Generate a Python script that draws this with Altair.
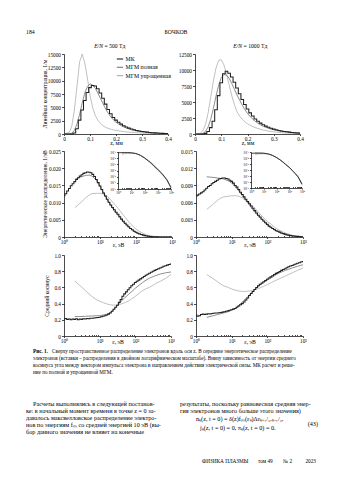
import altair as alt
import pandas as pd

W, H = 350, 487
FONT = "Liberation Serif"

SERIES = ["МК", "МГМ полная", "МГМ упрощенная"]
SERIES_COLORS = ["#202020", "#7a7a7a", "#ababab"]
SERIES_WIDTHS = [1.05, 0.85, 0.75]

# ---------------- top row: linear concentration vs z ----------------
Z_MK = [0.00, 0.01, 0.02, 0.03, 0.04, 0.05, 0.06, 0.07, 0.08, 0.09, 0.10, 0.11, 0.12, 0.13,
        0.14, 0.15, 0.16, 0.17, 0.18, 0.19, 0.20, 0.21, 0.22, 0.23, 0.24, 0.25, 0.26, 0.27,
        0.28, 0.29, 0.30, 0.31, 0.32, 0.33, 0.34, 0.35, 0.36, 0.37, 0.38, 0.39, 0.40]
Z_M = [0.00, 0.02, 0.03, 0.04, 0.05, 0.06, 0.07, 0.08, 0.09, 0.10, 0.11, 0.12, 0.13, 0.14,
       0.15, 0.16, 0.17, 0.18, 0.19, 0.20, 0.22, 0.24, 0.26, 0.28, 0.30, 0.32, 0.34, 0.36,
       0.38, 0.40]
MK_500 = [0, 0, 0, 0, 200, 1000, 2600, 4500, 6300, 7800, 8700, 9100, 9000, 8500, 7700, 6700,
          5600, 4600, 3800, 3100, 2600, 2200, 1850, 1550, 1300, 1100, 930, 790, 670, 570, 480,
          410, 350, 300, 250, 210, 180, 150, 120, 100, 80]
FULL_500 = [0, 0, 150, 700, 1900, 3700, 5800, 7700, 8900, 9400, 9200, 8600, 7700, 6700, 5700,
            4700, 3900, 3200, 2650, 2200, 1550, 1100, 780, 560, 400, 290, 210, 150, 110, 80]
SIMP_500 = [0, 300, 1500, 4500, 9000, 13500, 15000, 13300, 10500, 7300, 5000, 3500, 2600, 2000,
            1550, 1250, 1050, 900, 780, 680, 520, 400, 310, 240, 180, 140, 110, 80, 60, 45]
MK_1000 = [0, 0, 0, 0, 100, 400, 1000, 2000, 3800, 6000, 8000, 9400, 9800, 9500, 8900, 8100,
           7200, 6300, 5400, 4600, 3900, 3300, 2800, 2350, 2000, 1700, 1450, 1230, 1050, 890,
           760, 650, 550, 470, 400, 340, 290, 240, 200, 170, 140]
FULL_1000 = [0, 0, 100, 400, 1100, 2300, 4000, 5900, 7600, 8800, 9300, 9200, 8700, 7900, 7000,
             6100, 5300, 4500, 3800, 3200, 2300, 1650, 1200, 880, 650, 480, 360, 270, 200, 150]
SIMP_1000 = [0, 100, 500, 1500, 3300, 5800, 8300, 10300, 11500, 11600, 10800, 9400, 7700, 6000,
             4600, 3500, 2800, 2300, 1900, 1600, 1150, 850, 620, 450, 330, 240, 170, 120, 90, 60]

# ---------------- middle row: energy distribution ----------------
E_MK = [1, 1.122, 1.259, 1.413, 1.585, 1.778, 1.995, 2.239, 2.512, 2.818, 3.162, 3.548, 3.981,
        4.467, 5.012, 5.623, 6.31, 7.079, 7.943, 8.913,
        10, 11.22, 12.59, 14.13, 15.85, 17.78, 19.95, 22.39, 25.12, 28.18, 31.62, 35.48, 39.81,
        44.67, 50.12, 56.23, 63.1, 70.79, 79.43, 89.13,
        100, 112.2, 125.9, 141.3, 158.5, 177.8, 199.5, 223.9, 251.2, 281.8, 316.2, 354.8, 398.1,
        446.7, 501.2, 562.3, 631, 707.9, 794.3, 891.3, 1000]
E_M = [2, 3, 4, 5, 6, 8, 10, 13, 16, 20, 25, 32, 40, 50, 63, 80, 100, 130, 160, 200, 250,
       320, 400, 500, 700, 1000]
F_MK_500 = [0.0120, 0.0126, 0.0134, 0.0141, 0.0149, 0.0155, 0.0161, 0.0167, 0.0172, 0.0177,
            0.0181, 0.0185, 0.0187, 0.0189, 0.0188, 0.0187, 0.0182, 0.0176, 0.0167, 0.0158,
            0.0148, 0.0138, 0.0128, 0.0119, 0.0110, 0.0101, 0.0093, 0.0086, 0.0079, 0.0072,
            0.0066, 0.0059, 0.0052, 0.0046, 0.0040, 0.0035, 0.0030, 0.0025, 0.0021, 0.0017,
            0.0014, 0.0011, 0.0009, 0.0007, 0.00055, 0.0004, 0.0003, 0.0002, 0.00015, 0.0001,
            0.00007, 0.00005, 0.00003, 0.00002, 0.00001, 0.000005, 0, 0, 0, 0, 0]
F_FULL_500 = [0.0168, 0.0175, 0.0179, 0.0180, 0.0177, 0.0165, 0.0147, 0.0125, 0.0108, 0.0091,
              0.0076, 0.0062, 0.0049, 0.0038, 0.0028, 0.0020, 0.0014, 0.0009, 0.0006, 0.00035,
              0.0002, 0.0001, 0.00005, 0.00002, 0.000005, 0]
F_SIMP_500 = [0.0085, 0.0101, 0.0114, 0.0122, 0.0126, 0.0127, 0.0127, 0.0124, 0.0118, 0.0108,
              0.0096, 0.0083, 0.0070, 0.0057, 0.0044, 0.0032, 0.0023, 0.0015, 0.0010, 0.0006,
              0.00035, 0.0002, 0.0001, 0.00005, 0.00001, 0]
F_MK_1000 = [0.0071, 0.0073, 0.0075, 0.0077, 0.0079, 0.0082, 0.0085, 0.0088, 0.0090, 0.0093,
             0.0095, 0.0097, 0.0099, 0.0101, 0.0102, 0.0103, 0.0103, 0.0102, 0.0101, 0.0099,
             0.0097, 0.0094, 0.0090, 0.0087, 0.0083, 0.0078, 0.0074, 0.0070, 0.0066, 0.0062,
             0.0058, 0.0054, 0.0050, 0.0046, 0.0042, 0.0038, 0.0035, 0.0031, 0.0028, 0.0025,
             0.0022, 0.0019, 0.0017, 0.0015, 0.0013, 0.0011, 0.0010, 0.00085, 0.0007, 0.0006,
             0.0005, 0.0004, 0.00033, 0.00027, 0.00022, 0.00018, 0.00014, 0.00011, 0.00008,
             0.00006, 0.00004]
F_FULL_1000 = [0.0105, 0.0104, 0.0103, 0.0102, 0.0101, 0.0098, 0.0094, 0.0087, 0.0080, 0.0072,
               0.0064, 0.0055, 0.0047, 0.0040, 0.0033, 0.0027, 0.0021, 0.0016, 0.0012, 0.0009,
               0.0006, 0.0004, 0.00025, 0.00015, 0.00007, 0.00003]
F_SIMP_1000 = [0.0048, 0.0057, 0.0064, 0.0068, 0.0070, 0.0071, 0.0072, 0.0072, 0.0071, 0.0068,
               0.0064, 0.0059, 0.0053, 0.0047, 0.0040, 0.0033, 0.0027, 0.0022, 0.0017, 0.0013,
               0.0010, 0.0007, 0.0005, 0.0003, 0.00015, 0.00008]

# insets (log-log)
E_IN = [1, 2, 3, 5, 10, 20, 30, 50, 100, 200, 300, 500, 1000, 2000, 3000, 5000, 10000]
E_IN_M = [2, 3, 5, 10, 20, 30, 50, 100, 200, 300, 500, 1000, 2000, 3000, 5000, 10000]
IN_MK_500 = [0.075, 0.08, 0.08, 0.08, 0.075, 0.06, 0.045, 0.028, 0.011, 0.0035, 0.0018, 0.0006,
             0.00015, 3.5e-5, 1.2e-5, 3e-6, 1.5e-7]
IN_FULL_500 = [0.065, 0.07, 0.075, 0.072, 0.058, 0.044, 0.027, 0.0105, 0.0032, 0.0016, 0.0005,
               0.00012, 2.8e-5, 1e-5, 2.5e-6, 2e-7]
IN_SIMP_500 = [0.04, 0.05, 0.058, 0.06, 0.055, 0.045, 0.03, 0.013, 0.0045, 0.0022, 0.0008,
               0.0002, 4e-5, 1.4e-5, 3e-6, 2e-7]
IN_MK_1000 = [0.06, 0.065, 0.065, 0.065, 0.063, 0.05, 0.04, 0.026, 0.012, 0.0045, 0.0023,
              0.0009, 0.00028, 6e-5, 2.5e-5, 7e-6, 4e-7]
IN_FULL_1000 = [0.068, 0.067, 0.065, 0.062, 0.05, 0.04, 0.026, 0.012, 0.0045, 0.0023, 0.0009,
                0.00027, 6e-5, 2.4e-5, 6e-6, 5e-7]
IN_SIMP_1000 = [0.035, 0.042, 0.047, 0.05, 0.045, 0.038, 0.026, 0.013, 0.005, 0.0026, 0.001,
                0.0003, 7e-5, 2.8e-5, 8e-6, 6e-7]

# ---------------- bottom row: mean cosine ----------------
C_MK_500 = [0.21, 0.215, 0.205, 0.21, 0.20, 0.21, 0.205, 0.212, 0.20, 0.21, 0.205, 0.213, 0.21,
            0.215, 0.213, 0.218, 0.22, 0.223, 0.225, 0.228, 0.232, 0.237, 0.245, 0.25, 0.26,
            0.27, 0.285, 0.305, 0.33, 0.355, 0.38, 0.415, 0.45, 0.49, 0.52, 0.545, 0.57, 0.595,
            0.62, 0.64, 0.66, 0.675, 0.69, 0.705, 0.72, 0.735, 0.75, 0.763, 0.775, 0.788, 0.80,
            0.81, 0.82, 0.83, 0.84, 0.85, 0.86, 0.868, 0.875, 0.883, 0.89]
C_FULL_500 = [0.24, 0.24, 0.243, 0.245, 0.247, 0.25, 0.252, 0.26, 0.27, 0.29, 0.33, 0.38, 0.43,
              0.47, 0.51, 0.55, 0.59, 0.63, 0.66, 0.69, 0.715, 0.735, 0.75, 0.765, 0.78, 0.79]
C_SIMP_500 = [0.68, 0.61, 0.56, 0.52, 0.49, 0.45, 0.43, 0.41, 0.395, 0.385, 0.38, 0.385, 0.395,
              0.41, 0.43, 0.46, 0.49, 0.53, 0.56, 0.585, 0.60, 0.63, 0.655, 0.675, 0.71, 0.76]
C_MK_1000 = [0.26, 0.245, 0.25, 0.265, 0.27, 0.265, 0.27, 0.275, 0.272, 0.278, 0.28, 0.283,
             0.285, 0.288, 0.29, 0.295, 0.30, 0.305, 0.31, 0.318, 0.325, 0.332, 0.34, 0.355,
             0.37, 0.385, 0.40, 0.42, 0.445, 0.47, 0.50, 0.525, 0.55, 0.575, 0.60, 0.62, 0.64,
             0.655, 0.67, 0.685, 0.70, 0.715, 0.73, 0.745, 0.76, 0.773, 0.785, 0.797, 0.81,
             0.82, 0.83, 0.843, 0.855, 0.863, 0.87, 0.88, 0.89, 0.898, 0.905, 0.913, 0.92]
C_FULL_1000 = [0.23, 0.25, 0.265, 0.275, 0.285, 0.30, 0.32, 0.345, 0.38, 0.42, 0.46, 0.51,
               0.555, 0.595, 0.63, 0.66, 0.69, 0.72, 0.745, 0.77, 0.79, 0.81, 0.825, 0.84,
               0.86, 0.88]
C_SIMP_1000 = [0.76, 0.71, 0.67, 0.64, 0.62, 0.60, 0.58, 0.565, 0.555, 0.55, 0.55, 0.555, 0.565,
               0.58, 0.595, 0.615, 0.635, 0.66, 0.68, 0.70, 0.72, 0.74, 0.76, 0.78, 0.81, 0.84]

# tick values / labels
Z_TICKS = [0, 0.1, 0.2, 0.3, 0.4]
N500_TICKS = [0, 2500, 5000, 7500, 10000, 12500, 15000]
N1000_TICKS = [0, 2500, 5000, 7500, 10000, 12500]
F500_TICKS = [0, 0.005, 0.010, 0.015, 0.020, 0.025]
F1000_TICKS = [0, 0.003, 0.006, 0.009, 0.012, 0.015]
COS_TICKS = [0, 0.2, 0.4, 0.6, 0.8, 1.0]
E_TICKS = [1, 10, 100, 1000]
E_IN_TICKS = [1, 10, 100, 1000, 10000]
F_IN_TICKS = [1e-1, 1e-2, 1e-3, 1e-4, 1e-5, 1e-6, 1e-7]

# texts
HEADER_PAGE = "184"
HEADER_AUTHOR = "БОЧКОВ"
TITLE_500 = "= 500 Тд"
TITLE_1000 = "= 1000 Тд"
YT_TOP = "Линейная концентрация, 1/м"
YT_MID = "Энергетическое распределение, 1/эВ"
YT_BOT = "Средний косинус"
XT_Z = "z, мм"
XT_E = "ε, эВ"
CAPTION = [
    "Сверху пространственное распределение электронов вдоль оси z. В середине энергетическое распределение",
    "электронов (вставки – распределения в двойном логарифмическом масштабе). Внизу зависимость от энергии среднего",
    "косинуса угла между вектором импульса электрона и направлением действия электрической силы. МК расчет и реше-",
    "ние по полной и упрощенной МГМ.",
]
BODY_LEFT = [
    "Расчеты выполнялись в следующей постанов-",
    "ке: в начальный момент времени в точке z = 0 за-",
    "давалось максвелловское распределение электро-",
    "нов по энергиям fₘ со средней энергией 10 эВ (вы-",
    "бор данного значения не влияет на конечные",
]
BODY_RIGHT = [
    "результаты, поскольку равновесная средняя энер-",
    "гия электронов много больше этого значения)",
]
FORMULA = [
    "nₖ(z, t = 0) = δ(z)fₘ(εₖ)Δεₖ₊₁/₂,ₖ₋₁/₂,",
    "jₖ(z, t = 0) = 0,    πₖ(z, t = 0) = 0.",
]
FOOTER = ["ФИЗИКА ПЛАЗМЫ", "том 49", "№ 2", "2023"]

SUP = {0: "⁰", 1: "¹", 2: "²", 3: "³", 4: "⁴", 5: "⁵", 6: "⁶", 7: "⁷"}


def pow_expr(exps, neg=False):
    parts = []
    for e in exps:
        lab = "10" + ("⁻" if neg else "") + SUP[abs(e)]
        parts.append(f"abs(log(datum.value)/LN10 - ({e})) < 0.01 ? '{lab}'")
    return " : ".join(parts) + " : ''"


LOG3_EXPR = pow_expr([0, 1, 2, 3])
LOG4_EXPR = pow_expr([0, 1, 2, 3, 4])
NEG_EXPR = pow_expr([-1, -2, -3, -4, -5, -6, -7], neg=True)
LIN1 = "datum.value == 0 ? '0' : format(datum.value, '.1f')"
LIN3 = "datum.value == 0 ? '0' : format(datum.value, '.3f')"
INT = "format(datum.value, 'd')"
MINOR3 = [m * 10 ** d for d in range(3) for m in range(2, 10)]
MINOR4 = [m * 10 ** d for d in range(4) for m in range(2, 10)]

LEGEND = alt.Legend(title=None, orient="none", legendX=116, legendY=55, symbolType="stroke",
                    symbolSize=40, symbolStrokeWidth=1.1, labelFont=FONT, labelFontSize=5.8,
                    rowPadding=1.3, labelOffset=1.5, padding=0, labelLimit=200)


def sc(dom, rng, kind="linear"):
    if kind == "log":
        return alt.Scale(type="log", domain=dom, range=rng, nice=False)
    return alt.Scale(type="linear", domain=dom, range=rng, nice=False, zero=False)


def x_axis(yb, values, expr, title=None, size=5.3, tick=1.5, pad=0.5, tpad=-3.0):
    kw = dict(orient="bottom", offset=yb - H, values=values, labelExpr=expr, tickSize=tick,
              labelFontSize=size, labelPadding=pad)
    if title:
        kw.update(title=title, titleFontSize=5.7, titlePadding=tpad)
    else:
        kw.update(title=None)
    return alt.Axis(**kw)


def y_axis(x0, values, expr, size=5.3, tick=2.5, pad=1.0):
    return alt.Axis(orient="left", offset=-x0, values=values, labelExpr=expr, tickSize=tick,
                    labelFontSize=size, labelPadding=pad, title=None)


def minor_axis(yb, values):
    return alt.Axis(orient="bottom", offset=yb - H - 1.5, values=values, labels=False,
                    domain=False, tickSize=1.0, title=None, tickWidth=0.7)


def series(xs, ys, idx, xsc, ysc, interp="linear", xaxis=None, yaxis=None, wscale=1.0):
    data = pd.DataFrame({"x": xs, "y": ys, "series": SERIES[idx]})
    return alt.Chart(data).mark_line(interpolate=interp,
                                     strokeWidth=SERIES_WIDTHS[idx] * wscale).encode(
        x=alt.X("x:Q", scale=xsc, axis=xaxis),
        y=alt.Y("y:Q", scale=ysc, axis=yaxis),
        color=alt.Color("series:N", scale=alt.Scale(domain=SERIES, range=SERIES_COLORS),
                        legend=LEGEND),
    )


def ghost(xs, ys, xsc, ysc, xaxis):
    data = pd.DataFrame({"x": xs, "y": ys})
    return alt.Chart(data).mark_line(opacity=0).encode(
        x=alt.X("x:Q", scale=xsc, axis=xaxis),
        y=alt.Y("y:Q", scale=ysc, axis=None),
    )


def text(t, x, y, size, align="left", weight="normal", style="normal", angle=0):
    return alt.Chart(pd.DataFrame({"t": [t]})).mark_text(
        align=align, baseline="middle", font=FONT, fontSize=size, fontWeight=weight,
        fontStyle=style, angle=angle, color="black"
    ).encode(x=alt.value(x), y=alt.value(y), text="t:N")


layers = []


def panel(x0, x1, yb, yt, xdom, ydom, xkind, ykind, xs_mk, mk, xs_m, full, simp,
          xticks, xexpr, yticks, yexpr, xtitle, mk_interp="step", minor=None,
          lab=5.3, ytick=2.5, xtick=1.5, tpad=-3.0, wscale=1.0):
    xsc = sc(xdom, [x0, x1], xkind)
    ysc = sc(ydom, [yb, yt], ykind)
    layers.append(series(xs_m, simp, 2, xsc, ysc, wscale=wscale))
    layers.append(series(xs_m, full, 1, xsc, ysc, wscale=wscale))
    layers.append(series(xs_mk, mk, 0, xsc, ysc, interp=mk_interp, wscale=wscale,
                         xaxis=x_axis(yb, xticks, xexpr, xtitle, size=lab, tick=xtick,
                                      tpad=tpad),
                         yaxis=y_axis(x0, yticks, yexpr, size=lab, tick=ytick)))
    if minor:
        layers.append(ghost(xs_mk, mk, xsc, ysc, minor_axis(yb, minor)))


# top row
panel(64, 168, 134, 54, [0, 0.4], [0, 15000], "linear", "linear", Z_MK, MK_500, Z_M,
      FULL_500, SIMP_500, Z_TICKS, LIN1, N500_TICKS, INT, XT_Z, tpad=-1.5)
panel(195, 300, 134, 54, [0, 0.4], [0, 12500], "linear", "linear", Z_MK, MK_1000, Z_M,
      FULL_1000, SIMP_1000, Z_TICKS, LIN1, N1000_TICKS, INT, XT_Z, tpad=-1.5)
# middle row
panel(64, 172, 237, 151, [1, 1000], [0, 0.025], "log", "linear", E_MK, F_MK_500, E_M,
      F_FULL_500, F_SIMP_500, E_TICKS, LOG3_EXPR, F500_TICKS, LIN3, XT_E, minor=MINOR3,
      tpad=-2.5)
panel(196, 303, 237, 151, [1, 1000], [0, 0.015], "log", "linear", E_MK, F_MK_1000, E_M,
      F_FULL_1000, F_SIMP_1000, E_TICKS, LOG3_EXPR, F1000_TICKS, LIN3, XT_E, minor=MINOR3,
      tpad=-2.5)
# insets
panel(118, 171, 189, 152, [1, 10000], [1e-7, 1e-1], "log", "log", E_IN, IN_MK_500, E_IN_M,
      IN_FULL_500, IN_SIMP_500, E_IN_TICKS, LOG4_EXPR, F_IN_TICKS, NEG_EXPR, None,
      mk_interp="linear", minor=MINOR4, lab=3.6, ytick=1.5, xtick=1.0, wscale=0.8)
panel(251, 302, 188, 152, [1, 10000], [1e-7, 1e-1], "log", "log", E_IN, IN_MK_1000, E_IN_M,
      IN_FULL_1000, IN_SIMP_1000, E_IN_TICKS, LOG4_EXPR, F_IN_TICKS, NEG_EXPR, None,
      mk_interp="linear", minor=MINOR4, lab=3.6, ytick=1.5, xtick=1.0, wscale=0.8)
# bottom row
panel(64, 171, 336, 255, [1, 1000], [0, 1], "log", "linear", E_MK, C_MK_500, E_M,
      C_FULL_500, C_SIMP_500, E_TICKS, LOG3_EXPR, COS_TICKS, LIN1, XT_E, minor=MINOR3,
      tpad=-4.5)
panel(196, 303, 336, 255, [1, 1000], [0, 1], "log", "linear", E_MK, C_MK_1000, E_M,
      C_FULL_1000, C_SIMP_1000, E_TICKS, LOG3_EXPR, COS_TICKS, LIN1, XT_E, minor=MINOR3,
      tpad=-4.5)

# page header and panel titles
layers += [
    text(HEADER_PAGE, 26, 32, 5.8),
    text(HEADER_AUTHOR, 176, 32, 5.8, align="center"),
    text("E/N", 103, 46, 5.7, align="right", style="italic"),
    text(TITLE_500, 104.5, 46, 5.7),
    text("E/N", 242, 46, 5.7, align="right", style="italic"),
    text(TITLE_1000, 243.5, 46, 5.7),
    text(YT_TOP, 45, 94, 5.6, align="center", angle=270),
    text(YT_MID, 45, 194, 5.6, align="center", angle=270),
    text(YT_BOT, 47, 296, 5.6, align="center", angle=270),
]
# caption
layers.append(text("Рис. 1.", 33, 351, 5.2, weight="bold"))
layers.append(text(CAPTION[0], 52, 351, 5.2))
for i, line in enumerate(CAPTION[1:]):
    layers.append(text(line, 33, 358 + 7 * i, 5.2))
# body text
for i, line in enumerate(BODY_LEFT):
    layers.append(text(line, 33 if i == 0 else 26, 404 + 7 * i, 6.2))
for i, line in enumerate(BODY_RIGHT):
    layers.append(text(line, 180, 404 + 7 * i, 6.2))
layers.append(text(FORMULA[0], 196, 419, 6.2))
layers.append(text(FORMULA[1], 200, 428, 6.2))
layers.append(text("(43)", 318, 424, 6.2, align="right"))
# footer
layers.append(text(FOOTER[0], 202, 461, 5.3))
layers.append(text(FOOTER[1], 258, 461, 5.3))
layers.append(text(FOOTER[2], 283, 461, 5.3))
layers.append(text(FOOTER[3], 316, 461, 5.3, align="right"))

chart = alt.layer(*layers).resolve_scale(
    x="independent", y="independent"
).properties(
    width=W, height=H, autosize=alt.AutoSizeParams(type="none"), padding=0, background="white"
).configure_view(stroke=None).configure_axis(
    labelFont=FONT, titleFont=FONT, titleFontWeight="normal", labelColor="black",
    titleColor="black", domainColor="black", tickColor="black", domainWidth=0.7,
    tickWidth=0.7, grid=False, labelFlush=False, labelOverlap=False
)

chart.save("out.html", embed_options={"renderer": "svg", "actions": False})
